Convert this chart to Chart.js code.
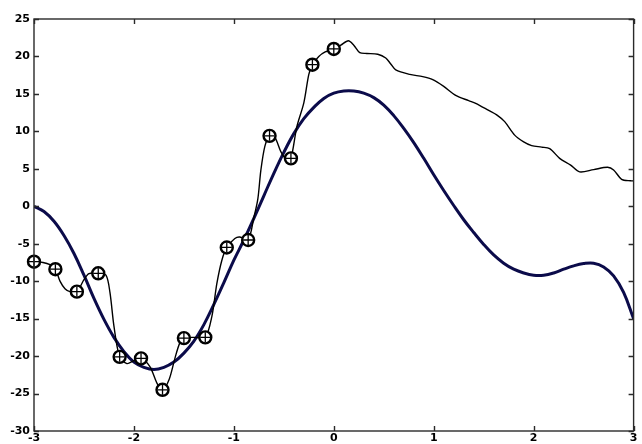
<!DOCTYPE html>
<html>
<head>
<meta charset="utf-8">
<script src="https://cdn.jsdelivr.net/npm/chart.js@4/dist/chart.umd.min.js"></script>
<style>
  html, body { margin: 0; padding: 0; background: #fff; }
  #plot { display: block; }
</style>
</head>
<body>
<canvas id="plot" width="642" height="444"></canvas>
<script>
"use strict";

// Smooth reference curve (thick navy line).
const smoothX = [-3, -2.9, -2.8, -2.7, -2.6, -2.5, -2.4, -2.3, -2.2, -2.1, -2, -1.9, -1.8, -1.7, -1.6,
  -1.5, -1.4, -1.3, -1.2, -1.1, -1, -0.9, -0.8, -0.7, -0.6, -0.5, -0.4, -0.3, -0.2, -0.1, 0,
  0.1, 0.2, 0.3, 0.4, 0.5, 0.6, 0.7, 0.8, 0.9, 1, 1.1, 1.2, 1.3, 1.4, 1.5, 1.6, 1.7, 1.8, 1.9,
  2, 2.1, 2.2, 2.3, 2.4, 2.5, 2.6, 2.7, 2.8, 2.9, 3];
const smoothY = [0, -0.7, -2.0, -3.9, -6.3, -9.2, -12.3, -15.1, -17.5, -19.4, -20.8, -21.5, -21.8, -21.5, -20.8,
  -19.6, -18.0, -15.8, -13.1, -10.2, -7.2, -4.5, -1.6, 1.4, 4.4, 7.2, 9.7, 11.7, 13.2, 14.4, 15.1,
  15.4, 15.4, 15.1, 14.5, 13.5, 12.1, 10.4, 8.5, 6.4, 4.2, 2.1, 0.1, -1.8, -3.5, -5.1, -6.5, -7.6, -8.4, -8.9,
  -9.2, -9.2, -8.9, -8.4, -7.95, -7.65, -7.6, -8.1, -9.3, -11.5, -15.0];

// Thin interpolating / noisy curve.
const thinX = [-3, -2.91, -2.84, -2.786, -2.74, -2.69, -2.64, -2.571, -2.5, -2.45, -2.357, -2.28, -2.24, -2.2,
  -2.143, -2.07, -2, -1.929, -1.84, -1.77, -1.714, -1.65, -1.59, -1.54, -1.5, -1.39, -1.286, -1.22, -1.17,
  -1.12, -1.071, -0.99, -0.94, -0.857, -0.8, -0.76, -0.73, -0.69, -0.643, -0.59, -0.53, -0.47, -0.429,
  -0.37, -0.3, -0.25, -0.214, -0.15, -0.086, 0, 0.07, 0.145, 0.2, 0.26, 0.33, 0.44, 0.52, 0.57, 0.62,
  0.76, 0.89, 0.99, 1.1, 1.22, 1.35, 1.42, 1.55, 1.63, 1.71, 1.81, 1.9, 1.98, 2.08, 2.16, 2.26, 2.37,
  2.46, 2.6, 2.74, 2.8, 2.88, 2.97, 3];
const thinY = [-7.4, -7.5, -7.8, -8.4, -10.0, -11.0, -11.4, -11.4, -9.8, -9.0, -8.95, -9.2, -11.5, -16.0,
  -20.1, -21.0, -20.6, -20.3, -21.4, -23.6, -24.5, -23.2, -20.3, -18.2, -17.6, -17.5, -17.5, -14.7, -10.3,
  -7.2, -5.5, -4.3, -4.1, -4.5, -1.5, 1.0, 4.8, 8.0, 9.4, 9.2, 7.3, 6.2, 6.4,
  10.6, 13.8, 17.6, 18.9, 20.0, 20.6, 21.0, 21.5, 22.1, 21.5, 20.5, 20.4, 20.3, 19.8, 19.0, 18.2,
  17.6, 17.3, 16.9, 16.0, 14.8, 14.1, 13.75, 12.8, 12.2, 11.3, 9.5, 8.6, 8.1, 7.9, 7.7, 6.4, 5.5,
  4.6, 4.9, 5.2, 4.85, 3.6, 3.4, 3.4];

// Sample points (circled crosses).
const sampleX = [-3, -2.786, -2.571, -2.357, -2.143, -1.929, -1.714, -1.5, -1.286, -1.071, -0.857, -0.643, -0.429, -0.214, 0];
const sampleY = [-7.4, -8.4, -11.4, -8.95, -20.1, -20.3, -24.5, -17.6, -17.5, -5.5, -4.5, 9.4, 6.4, 18.9, 21.0];

const xTicks = [-3, -2, -1, 0, 1, 2, 3];
const yTicks = [-30, -25, -20, -15, -10, -5, 0, 5, 10, 15, 20, 25];

const toPts = (xs, ys) => xs.map((x, i) => ({ x, y: ys[i] }));

// Box around the plot with MATLAB-style inward ticks.
const framePlugin = {
  id: "frame",
  afterDraw(chart) {
    const { ctx, chartArea: a, scales } = chart;
    const len = 5;
    ctx.save();
    ctx.strokeStyle = "#2a2a2a";
    ctx.lineWidth = 1.4;
    ctx.strokeRect(a.left, a.top, a.right - a.left, a.bottom - a.top);
    ctx.beginPath();
    for (const v of xTicks) {
      const px = Math.round(scales.x.getPixelForValue(v)) + 0.5;
      ctx.moveTo(px, a.bottom); ctx.lineTo(px, a.bottom - len);
      ctx.moveTo(px, a.top); ctx.lineTo(px, a.top + len);
    }
    for (const v of yTicks) {
      const py = Math.round(scales.y.getPixelForValue(v)) + 0.5;
      ctx.moveTo(a.left, py); ctx.lineTo(a.left + len, py);
      ctx.moveTo(a.right, py); ctx.lineTo(a.right - len, py);
    }
    ctx.stroke();
    ctx.restore();
  },
};

const tickFont = { family: "'DejaVu Sans', sans-serif", size: 11, weight: "bold" };

new Chart(document.getElementById("plot"), {
  type: "scatter",
  data: {
    datasets: [
      {
        data: toPts(smoothX, smoothY),
        showLine: true,
        borderColor: "#0b0b4a",
        borderWidth: 3,
        pointRadius: 0,
        tension: 0.4,
        order: 3,
      },
      {
        data: toPts(thinX, thinY),
        showLine: true,
        borderColor: "#000",
        borderWidth: 1.4,
        pointRadius: 0,
        tension: 0.3,
        order: 2,
      },
      {
        data: toPts(sampleX, sampleY),
        showLine: false,
        pointStyle: "circle",
        pointRadius: 6,
        pointBackgroundColor: "#fff",
        pointBorderColor: "#000",
        pointBorderWidth: 2.4,
        clip: false,
        order: 1,
      },
      {
        data: toPts(sampleX, sampleY),
        showLine: false,
        pointStyle: "cross",
        pointRadius: 5,
        pointBorderColor: "#000",
        pointBorderWidth: 1.3,
        clip: false,
        order: 0,
      },
    ],
  },
  options: {
    responsive: false,
    animation: false,
    events: [],
    layout: { padding: { left: 0, right: 2, top: 19, bottom: 0 } },
    plugins: { legend: { display: false }, tooltip: { enabled: false } },
    scales: {
      x: {
        type: "linear",
        min: -3,
        max: 3,
        afterBuildTicks: (s) => { s.ticks = xTicks.map((v) => ({ value: v })); },
        ticks: { color: "#000", font: tickFont, padding: 1, maxRotation: 0, callback: (v) => String(v) },
        grid: { display: false, drawTicks: false },
        border: { display: false },
        afterFit: (s) => { s.height = 13; s.paddingLeft = 0; s.paddingRight = 0; },
      },
      y: {
        type: "linear",
        min: -30,
        max: 25,
        afterBuildTicks: (s) => { s.ticks = yTicks.map((v) => ({ value: v })); },
        ticks: { color: "#000", font: tickFont, padding: 4, callback: (v) => String(v) },
        grid: { display: false, drawTicks: false },
        border: { display: false },
        afterFit: (s) => { s.width = 34; s.paddingTop = 0; s.paddingBottom = 0; },
      },
    },
  },
  plugins: [framePlugin],
});
</script>
</body>
</html>
